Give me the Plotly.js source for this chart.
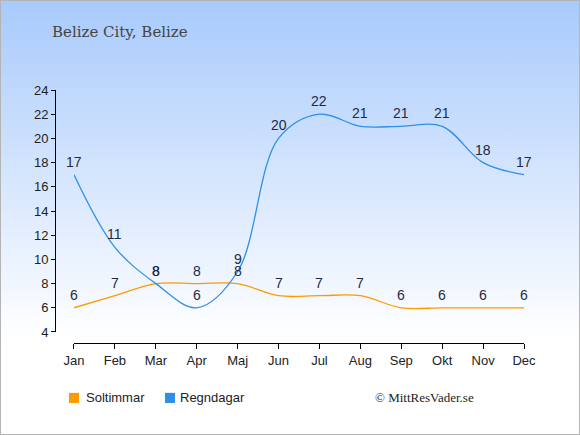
<!DOCTYPE html>
<html><head><meta charset="utf-8">
<script src="https://cdn.plot.ly/plotly-3.0.1.min.js"></script>
<style>
html,body{margin:0;padding:0;}
#wrap{width:578px;height:433px;border:1px solid #b4b4b4;background:linear-gradient(to bottom,#a8cafc 0%,#ffffff 78%);}
#chart{width:578px;height:433px;}
</style></head><body>
<div id="wrap"><div id="chart"></div></div>
<script>
const months = ["Jan","Feb","Mar","Apr","Maj","Jun","Jul","Aug","Sep","Okt","Nov","Dec"];
const soltimmar = [6,7,8,8,8,7,7,7,6,6,6,6];
const regndagar = [17,11,8,6,9,20,22,21,21,21,18,17];
const seriesNames = ["Soltimmar","Regndagar"];
const idx = months.map((m,i)=>i);
const orange = "#ff9900", blue = "#2f8fe8";
const labelFont = {family:"Liberation Sans, Arial", size:14, color:"#1e2a45"};
const traces = [
  {x:idx, y:soltimmar, mode:"lines", line:{color:orange, width:1.3, shape:"spline"}, showlegend:false, hoverinfo:"skip"},
  {x:idx, y:regndagar, mode:"lines", line:{color:blue, width:1.3, shape:"spline"}, showlegend:false, hoverinfo:"skip"}
];
const annotations = [];
[soltimmar, regndagar].forEach(arr => arr.forEach((v,i) => {
  annotations.push({x:i, y:v, xref:"x", yref:"y", text:String(v), showarrow:false, yshift:13,
    xanchor:"center", yanchor:"middle", font:labelFont});
}));
annotations.push(
  {text:"Belize City, Belize", xref:"paper", yref:"paper", x:-0.01, y:1.228, xanchor:"left", yanchor:"middle",
   showarrow:false, font:{family:"DejaVu Serif", size:15, color:"#444"}},
  {text:"© MittResVader.se", xref:"paper", yref:"paper", x:0.898, y:-0.217, xanchor:"right", yanchor:"middle",
   showarrow:false, font:{family:"Liberation Serif", size:13, color:"#222"}},
  {text:seriesNames[0], xref:"paper", yref:"paper", x:0.061, y:-0.217, xanchor:"left", yanchor:"middle",
   showarrow:false, font:{family:"Liberation Sans, Arial", size:13, color:"#222"}},
  {text:seriesNames[1], xref:"paper", yref:"paper", x:0.263, y:-0.217, xanchor:"left", yanchor:"middle",
   showarrow:false, font:{family:"Liberation Sans, Arial", size:13, color:"#222"}}
);
const shapes = [
  {type:"rect", xref:"paper", yref:"paper", x0:0.0299, x1:0.0512, y0:-0.237, y1:-0.197, fillcolor:orange, line:{width:0}},
  {type:"rect", xref:"paper", yref:"paper", x0:0.2345, x1:0.2558, y0:-0.237, y1:-0.197, fillcolor:blue, line:{width:0}}
];
const layout = {
  width:578, height:433,
  paper_bgcolor:"rgba(0,0,0,0)", plot_bgcolor:"rgba(0,0,0,0)",
  margin:{l:54, r:55, t:89, b:91, pad:0},
  font:{family:"Liberation Sans, Arial", size:13, color:"#222"},
  xaxis:{range:[0,11], domain:[0.0405,1], tickvals:idx, ticktext:months, showline:true, linecolor:"#000", linewidth:1,
         ticks:"outside", ticklen:5, tickcolor:"#000", showgrid:false, zeroline:false, anchor:"free", position:0,
         tickfont:{size:13, color:"#222"}, fixedrange:true},
  yaxis:{range:[4,24], domain:[0.0435,1], dtick:2, showline:true, linecolor:"#000", linewidth:1,
         ticks:"outside", ticklen:4, tickcolor:"#000", showgrid:false, zeroline:false, anchor:"free", position:0,
         tickfont:{size:13, color:"#222"}, fixedrange:true},
  showlegend:false,
  annotations:annotations,
  shapes:shapes
};
Plotly.newPlot("chart", traces, layout, {staticPlot:true, displayModeBar:false});
</script></body></html>
